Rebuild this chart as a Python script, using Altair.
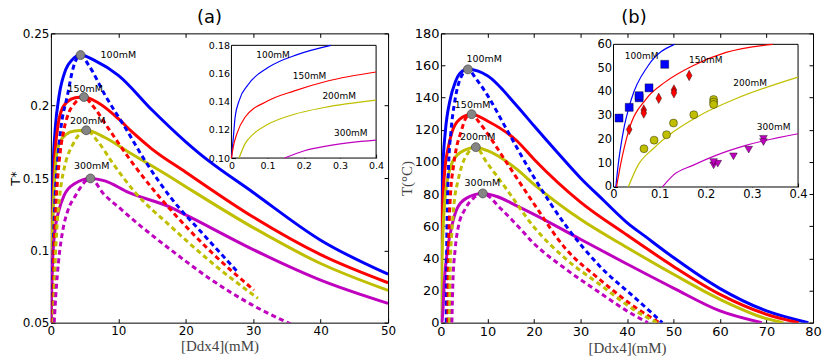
import altair as alt
import pandas as pd

CONCS = ["100mM", "150mM", "200mM", "300mM"]
COLORS = ["#0000ff", "#ff0000", "#bfbf00", "#bf00bf"]

# ---------------- Panel (a): reduced temperature T* ----------------
a_sol_100_x = [0.01, 0.05, 0.1, 0.2, 0.35, 0.64, 1.22, 2.2, 3.2, 4.4, 6.6, 10, 15, 20, 22, 30, 40, 50]
a_sol_100_y = [0.05, 0.09, 0.115, 0.138, 0.161, 0.184, 0.207, 0.225, 0.232, 0.235, 0.231, 0.221, 0.197, 0.175, 0.167, 0.140, 0.107, 0.0835]
a_sol_150_x = [0.01, 0.08, 0.2, 0.35, 0.54, 0.98, 1.47, 2.5, 3.6, 4.9, 7, 10, 12, 15, 20, 30, 40, 50]
a_sol_150_y = [0.05, 0.09, 0.115, 0.138, 0.161, 0.184, 0.1955, 0.203, 0.2055, 0.206, 0.202, 0.191, 0.182, 0.170, 0.154, 0.123, 0.097, 0.0776]
a_sol_200_x = [0.01, 0.15, 0.25, 0.44, 0.73, 1.13, 2.2, 3.5, 5.24, 8, 11.5, 17.6, 20, 30, 40, 50]
a_sol_200_y = [0.05, 0.092, 0.115, 0.138, 0.161, 0.1725, 0.180, 0.1825, 0.183, 0.178, 0.168, 0.151, 0.144, 0.1157, 0.0909, 0.0723]
a_sol_300_x = [0.01, 0.1, 0.25, 0.64, 1.13, 1.96, 3.5, 5.87, 8, 11.5, 17.6, 20, 30, 40, 50]
a_sol_300_y = [0.05, 0.069, 0.092, 0.115, 0.1266, 0.138, 0.146, 0.1497, 0.148, 0.140, 0.130, 0.1245, 0.1005, 0.0794, 0.0633]

a_dash_100_x = [0.15, 0.2, 0.3, 0.44, 0.64, 0.98, 1.47, 2.45, 3.3, 4.4, 5.6, 8.07, 11.26, 13.95, 17.9, 22.5, 27.7]
a_dash_100_y = [0.05, 0.07, 0.092, 0.115, 0.138, 0.161, 0.184, 0.207, 0.226, 0.235, 0.228, 0.207, 0.183, 0.162, 0.1357, 0.1116, 0.085]
a_dash_150_x = [0.25, 0.39, 0.59, 0.83, 1.22, 1.96, 2.69, 3.6, 4.9, 6.2, 8.57, 12.0, 15.0, 18.35, 24.0, 30.1]
a_dash_150_y = [0.05, 0.092, 0.115, 0.138, 0.161, 0.184, 0.1955, 0.202, 0.206, 0.200, 0.184, 0.161, 0.143, 0.125, 0.0978, 0.0725]
a_dash_200_x = [0.35, 0.49, 0.64, 0.88, 1.32, 2.2, 3.18, 5.24, 7.0, 9.06, 12.5, 17.6, 24.0, 30.7]
a_dash_200_y = [0.05, 0.069, 0.092, 0.115, 0.138, 0.161, 0.1725, 0.183, 0.175, 0.161, 0.140, 0.1173, 0.0909, 0.0668]
a_dash_300_x = [0.49, 0.73, 1.13, 1.81, 2.45, 3.67, 5.87, 7.83, 10.5, 13.0, 17.6, 23.5, 29.9, 35.6]
a_dash_300_y = [0.05, 0.069, 0.092, 0.115, 0.1266, 0.138, 0.1497, 0.139, 0.128, 0.118, 0.101, 0.0806, 0.0621, 0.049]

a_crit_x = [4.4, 4.9, 5.24, 5.87]
a_crit_y = [0.235, 0.206, 0.183, 0.1497]
a_lab_x = [10.0, 5.1, 5.45, 6.05]
a_lab_y = [0.2348, 0.2118, 0.1895, 0.1585]

# inset (a)
ia_100_x = [0.0, 0.006, 0.01, 0.021, 0.047, 0.101, 0.184, 0.275]
ia_100_y = [0.1, 0.117, 0.1288, 0.1406, 0.1524, 0.1642, 0.1736, 0.18]
ia_150_x = [0.0, 0.005, 0.0146, 0.037, 0.101, 0.174, 0.266, 0.4]
ia_150_y = [0.1, 0.108, 0.117, 0.1288, 0.1406, 0.1477, 0.1547, 0.1611]
ia_200_x = [0.021, 0.037, 0.0603, 0.101, 0.174, 0.257, 0.4]
ia_200_y = [0.1, 0.1099, 0.117, 0.124, 0.1311, 0.1359, 0.1411]
ia_300_x = [0.147, 0.202, 0.266, 0.4]
ia_300_y = [0.1, 0.1052, 0.1087, 0.1127]
ia_lab_x = [0.115, 0.216, 0.298, 0.33]
ia_lab_y = [0.1733, 0.158, 0.1437, 0.1175]

# ---------------- Panel (b): temperature in Celsius ----------------
b_sol_100_x = [0.0, 0.07, 0.21, 0.43, 0.93, 2.0, 3.06, 4.2, 5.8, 8, 10, 16.3, 20, 25, 30, 35, 40, 44, 50, 60, 70, 79]
b_sol_100_y = [0, 56, 76.9, 97.6, 118.4, 139, 149.5, 155.5, 157.6, 156.5, 153.6, 135, 122.5, 106, 90, 76, 62.3, 53.5, 40.5, 21.2, 7.3, 0]
b_sol_150_x = [0.0, 0.07, 0.21, 0.43, 0.93, 1.5, 2.36, 4.0, 6.6, 10, 16.3, 20, 30, 40, 50, 60, 70, 76.9]
b_sol_150_y = [0, 35.4, 56, 76.9, 97.6, 108, 118.4, 126.5, 129.7, 125.5, 113.2, 101.7, 75, 54.5, 35, 17.6, 5.2, 0]
b_sol_200_x = [0.0, 0.07, 0.21, 0.43, 0.86, 1.28, 2.14, 4.0, 7.5, 10, 16.3, 20, 30, 40, 50, 60, 70, 73.6]
b_sol_200_y = [0, 14.6, 35.4, 56, 76.9, 87.2, 97.6, 105.5, 109, 107, 95.5, 86.1, 64.3, 46.8, 30.1, 14.5, 2.5, 0]
b_sol_300_x = [0.21, 0.36, 0.71, 1.43, 2.35, 3.42, 5.5, 9.0, 12, 16.3, 20, 30, 40, 50, 60, 69]
b_sol_300_y = [0, 4.3, 25, 45.7, 60.2, 70.6, 77.5, 80.3, 78.5, 72.7, 67.4, 51.9, 36.5, 21.5, 7.3, 0]

b_dash_100_x = [1.14, 1.21, 1.43, 1.64, 2.14, 3.06, 4.2, 5.8, 7.5, 9.85, 14.1, 19.8, 26.9, 34.1, 41.9, 44, 47.6]
b_dash_100_y = [0, 35.4, 76.9, 97.6, 118.4, 139.1, 152, 157.6, 152, 142.2, 120.4, 91.4, 60.2, 35.3, 15, 9.5, 0]
b_dash_150_x = [1.5, 1.57, 1.71, 2.0, 2.71, 3.28, 4.28, 5.4, 6.6, 8.0, 9.85, 14.1, 19.8, 26.9, 34.1, 41.9, 47.0]
b_dash_150_y = [0, 35.4, 56.1, 76.9, 97.6, 108, 118.4, 127.5, 129.7, 125.5, 118.3, 99.7, 74.8, 45.7, 27, 9.3, 0]
b_dash_200_x = [1.85, 2.0, 2.35, 2.92, 3.57, 4.49, 5.8, 7.5, 9.85, 14.1, 19.8, 26.9, 34.1, 41.9, 46.5]
b_dash_200_y = [0, 35.4, 56.1, 76.9, 87.2, 97.6, 105.5, 109, 99.7, 83.1, 60.2, 39.5, 23.9, 7.3, 0]
b_dash_300_x = [2.35, 2.57, 3.06, 3.78, 5.2, 7.0, 9.0, 12.98, 16.5, 19.8, 26.9, 34.1, 41.2, 44.5]
b_dash_300_y = [0, 25, 45.7, 60.2, 70.6, 77.5, 80.3, 70.6, 60.2, 49.8, 33.2, 18.7, 5.2, 0]

b_crit_x = [5.8, 6.6, 7.5, 9.0]
b_crit_y = [157.6, 129.7, 109.2, 80.4]
b_lab_x = [9.3, 6.8, 7.9, 8.9]
b_lab_y = [164, 135.6, 115.8, 87.2]

# inset (b)
ib_100_x = [0.005, 0.010, 0.021, 0.039, 0.075, 0.132]
ib_100_y = [0, 9.1, 23.1, 37.1, 51, 60]
ib_150_x = [0.0065, 0.015, 0.032, 0.071, 0.111, 0.172, 0.244, 0.345]
ib_150_y = [0, 9.1, 23.1, 37.1, 44, 51, 56.6, 60]
ib_200_x = [0.032, 0.053, 0.086, 0.129, 0.186, 0.265, 0.4]
ib_200_y = [0, 9.1, 16.1, 23.1, 30, 37.1, 46.2]
ib_300_x = [0.106, 0.129, 0.172, 0.222, 0.287, 0.4]
ib_300_y = [0, 4.9, 9.1, 13.3, 17.5, 22.4]
ib_lab_x = [0.061, 0.2, 0.296, 0.347]
ib_lab_y = [55.2, 53.6, 43.8, 25.2]

exp_100_x = [0.012, 0.034, 0.0555, 0.0555, 0.077, 0.111]
exp_100_y = [29.0, 33.5, 37.5, 38.4, 41.7, 51.6]
exp_150_x = [0.034, 0.0656, 0.0656, 0.098, 0.131, 0.131, 0.164]
exp_150_y = [24.2, 32.4, 31.1, 37.3, 40.8, 39.6, 46.9]
exp_200_x = [0.066, 0.088, 0.115, 0.130, 0.174, 0.217, 0.217, 0.217]
exp_200_y = [16.1, 19.7, 22.0, 26.9, 30.4, 36.8, 35.7, 34.7]
exp_300_x = [0.217, 0.226, 0.217, 0.26, 0.293, 0.325, 0.325]
exp_300_y = [9.1, 9.8, 10.5, 12.9, 15.7, 20.3, 18.9]

# ---------------- helpers ----------------
def lines_df(xs, ys):
    rows = []
    for c, xv, yv in zip(CONCS, xs, ys):
        for i, (x, y) in enumerate(zip(xv, yv)):
            rows.append({"c": c, "x": x, "y": y, "i": i})
    return pd.DataFrame(rows)


def pts_df(xs, ys, texts=None):
    d = pd.DataFrame({"c": CONCS[:len(xs)], "x": xs, "y": ys})
    if texts is not None:
        d["t"] = texts
    return d


COLOR = alt.Color("c:N", scale=alt.Scale(domain=CONCS, range=COLORS), legend=None)
XTITLE = "[Ddx4](mM)"
FMT = ".2~f"


def main_enc(field, ch, dom, ticks, title, tfont, tsize, tcolor, lsize):
    sc = alt.Scale(domain=dom, nice=False, zero=False)
    if ch == "x":
        return alt.X(field, type="quantitative", scale=sc, axis=alt.Axis(
            orient="bottom", values=ticks, offset=-4, tickSize=4, domain=False,
            labelPadding=3, labelFlush=False, labelFontSize=lsize, format=FMT,
            title=title, titleFont=tfont, titleFontSize=tsize, titleColor=tcolor,
            titleFontWeight="normal", titlePadding=2, grid=False))
    return alt.Y(field, type="quantitative", scale=sc, axis=alt.Axis(
        orient="left", values=ticks, offset=-4, tickSize=4, domain=False,
        labelPadding=2, labelFontSize=lsize, format=FMT,
        title=title, titleFont=tfont, titleFontSize=tsize, titleColor=tcolor,
        titleFontWeight="normal", titlePadding=0, grid=False))


def inset_enc(field, ch, dom, rng, ticks, offset, fmt, lsize):
    sc = alt.Scale(domain=dom, range=rng, nice=False, zero=False)
    if ch == "x":
        return alt.X(field, type="quantitative", scale=sc, axis=alt.Axis(
            orient="bottom", values=ticks, offset=offset, tickSize=4, domain=False,
            labelPadding=2, labelFlush=False, labelFontSize=lsize, format=fmt,
            title=None, grid=False))
    return alt.Y(field, type="quantitative", scale=sc, axis=alt.Axis(
        orient="left", values=ticks, offset=offset, tickSize=4, domain=False,
        labelPadding=2, labelFontSize=lsize, format=fmt, title=None, grid=False))


def build_panel(cfg):
    W, H = cfg["W"], cfg["H"]
    X = lambda f: main_enc(f, "x", cfg["xdom"], cfg["xticks"], XTITLE,
                           "Liberation Serif", 15, "#444444", cfg["lsize"])
    Y = lambda f: main_enc(f, "y", cfg["ydom"], cfg["yticks"], cfg["ytitle"],
                           cfg["ytfont"], cfg["ytsize"], cfg["ytcolor"], cfg["lsize"])

    solid = alt.Chart(cfg["sol"]).mark_line(strokeWidth=3, clip=True, interpolate="monotone").encode(
        x=X("x"), y=Y("y"), color=COLOR, detail="c:N", order="i:Q")
    dashed = alt.Chart(cfg["dash"]).mark_line(strokeWidth=3, strokeDash=[5, 3.5], clip=True,
                                             interpolate="monotone").encode(
        x=X("x"), y=Y("y"), color=COLOR, detail="c:N", order="i:Q")
    crit = alt.Chart(cfg["crit"]).mark_circle(size=80, color="#858585", stroke="#454545",
                                               strokeWidth=0.7, opacity=1).encode(x=X("x"), y=Y("y"))
    labs = alt.Chart(cfg["labs"]).mark_text(font="DejaVu Sans", fontSize=9.5, color="black",
                                            align="center", baseline="middle").encode(
        x=X("x"), y=Y("y"), text="t:N")
    main = alt.layer(solid, dashed, crit, labs)

    frame = pd.DataFrame({"x": cfg["xdom"], "y": cfg["ydom"]})
    ticks = alt.Chart(frame).mark_point(opacity=0).encode(
        x=alt.X("x:Q", scale=alt.Scale(domain=cfg["xdom"], nice=False, zero=False),
                axis=alt.Axis(orient="top", values=cfg["xticks"], offset=-4, tickSize=4,
                              domain=False, labels=False, title=None, grid=False)),
        y=alt.Y("y:Q", scale=alt.Scale(domain=cfg["ydom"], nice=False, zero=False),
                axis=alt.Axis(orient="right", values=cfg["yticks"], offset=-4, tickSize=4,
                              domain=False, labels=False, title=None, grid=False)))

    ix0, ix1, iy0, iy1 = cfg["ibox"]  # pixel box of the inset inside plot
    IX = lambda f: inset_enc(f, "x", cfg["ixdom"], [ix0, ix1], cfg["ixticks"],
                             -(H - (iy1 - 4)), FMT, cfg["ilsize"])
    IY = lambda f: inset_enc(f, "y", cfg["iydom"], [iy1, iy0], cfg["iyticks"],
                             -(ix0 + 4), cfg["iyfmt"], cfg["ilsize"])
    box = pd.DataFrame({"x0": [cfg["ixdom"][0]], "x1": [cfg["ixdom"][1]],
                        "y0": [cfg["iydom"][0]], "y1": [cfg["iydom"][1]]})
    bg = alt.Chart(box).mark_rect(fill="white", stroke="black", strokeWidth=1).encode(
        x=IX("x0"), x2="x1:Q", y=IY("y0"), y2="y1:Q")
    ilines = alt.Chart(cfg["isol"]).mark_line(strokeWidth=1.2, interpolate="monotone").encode(
        x=IX("x"), y=IY("y"), color=COLOR, detail="c:N", order="i:Q")
    ilabs = alt.Chart(cfg["ilabs"]).mark_text(font="DejaVu Sans", fontSize=9, color="black",
                                              align="center", baseline="middle").encode(
        x=IX("x"), y=IY("y"), text="t:N")
    ilayers = [bg, ilines]
    for (df, shape, col, size) in cfg.get("markers", []):
        ilayers.append(alt.Chart(df).mark_point(shape=shape, filled=True, fill=col, stroke="black",
                                                strokeWidth=0.4, size=size, opacity=1).encode(
            x=IX("x"), y=IY("y")))
    ilayers.append(ilabs)
    inset = alt.layer(*ilayers)

    return alt.layer(main, ticks, inset).resolve_scale(x="independent", y="independent").properties(
        width=W, height=H,
        title=alt.TitleParams(cfg["title"], fontSize=18, font="DejaVu Sans", fontWeight="normal",
                              color="black", dx=cfg["tdx"], offset=0))


def mdf(xs, ys):
    return pd.DataFrame({"x": xs, "y": ys})


cfg_a = dict(
    W=338, H=290, xdom=[0, 50], ydom=[0.05, 0.25], xticks=[0, 10, 20, 30, 40, 50],
    yticks=[0.05, 0.1, 0.15, 0.2, 0.25], ytitle="T*", ytfont="DejaVu Sans", ytsize=13,
    ytcolor="black", lsize=12,
    sol=lines_df([a_sol_100_x, a_sol_150_x, a_sol_200_x, a_sol_300_x],
                 [a_sol_100_y, a_sol_150_y, a_sol_200_y, a_sol_300_y]),
    dash=lines_df([a_dash_100_x, a_dash_150_x, a_dash_200_x, a_dash_300_x],
                  [a_dash_100_y, a_dash_150_y, a_dash_200_y, a_dash_300_y]),
    crit=pts_df(a_crit_x, a_crit_y), labs=pts_df(a_lab_x, a_lab_y, CONCS),
    ibox=(181, 326, 12, 125), ixdom=[0, 0.4], iydom=[0.1, 0.18],
    ixticks=[0, 0.1, 0.2, 0.3, 0.4], iyticks=[0.10, 0.12, 0.14, 0.16, 0.18], iyfmt=".2f",
    ilsize=9.5,
    isol=lines_df([ia_100_x, ia_150_x, ia_200_x, ia_300_x], [ia_100_y, ia_150_y, ia_200_y, ia_300_y]),
    ilabs=pts_df(ia_lab_x, ia_lab_y, CONCS), title="(a)", tdx=-10)

cfg_b = dict(
    W=373, H=290, xdom=[0, 80], ydom=[0, 180], xticks=[0, 10, 20, 30, 40, 50, 60, 70, 80],
    yticks=[0, 20, 40, 60, 80, 100, 120, 140, 160, 180], ytitle="T(°C)",
    ytfont="Liberation Serif", ytsize=15, ytcolor="#444444", lsize=13,
    sol=lines_df([b_sol_100_x, b_sol_150_x, b_sol_200_x, b_sol_300_x],
                 [b_sol_100_y, b_sol_150_y, b_sol_200_y, b_sol_300_y]),
    dash=lines_df([b_dash_100_x, b_dash_150_x, b_dash_200_x, b_dash_300_x],
                  [b_dash_100_y, b_dash_150_y, b_dash_200_y, b_dash_300_y]),
    crit=pts_df(b_crit_x, b_crit_y), labs=pts_df(b_lab_x, b_lab_y, CONCS),
    ibox=(173, 358, 11, 154), ixdom=[0, 0.4], iydom=[0, 60],
    ixticks=[0, 0.1, 0.2, 0.3, 0.4], iyticks=[0, 10, 20, 30, 40, 50, 60], iyfmt=FMT,
    ilsize=11.5,
    isol=lines_df([ib_100_x, ib_150_x, ib_200_x, ib_300_x], [ib_100_y, ib_150_y, ib_200_y, ib_300_y]),
    ilabs=pts_df(ib_lab_x, ib_lab_y, CONCS), title="(b)", tdx=7,
    markers=[
        (mdf(exp_100_x, exp_100_y), "square", COLORS[0], 64),
        (mdf(exp_150_x, exp_150_y), "M0,-1L0.55,0L0,1L-0.55,0Z", COLORS[1], 110),
        (mdf(exp_200_x, exp_200_y), "circle", COLORS[2], 64),
        (mdf(exp_300_x, exp_300_y), "triangle-down", COLORS[3], 60),
    ])

panel_a = build_panel(cfg_a)
panel_b = build_panel(cfg_b)

chart = alt.hconcat(panel_a, panel_b, spacing=1).properties(padding=0).configure_view(
    stroke="black", strokeWidth=1).configure_axis(
    labelFont="DejaVu Sans", labelColor="black", tickColor="black", tickWidth=1,
    labelOverlap=False)

chart.save("out.html", embed_options={"renderer": "svg", "actions": False})
